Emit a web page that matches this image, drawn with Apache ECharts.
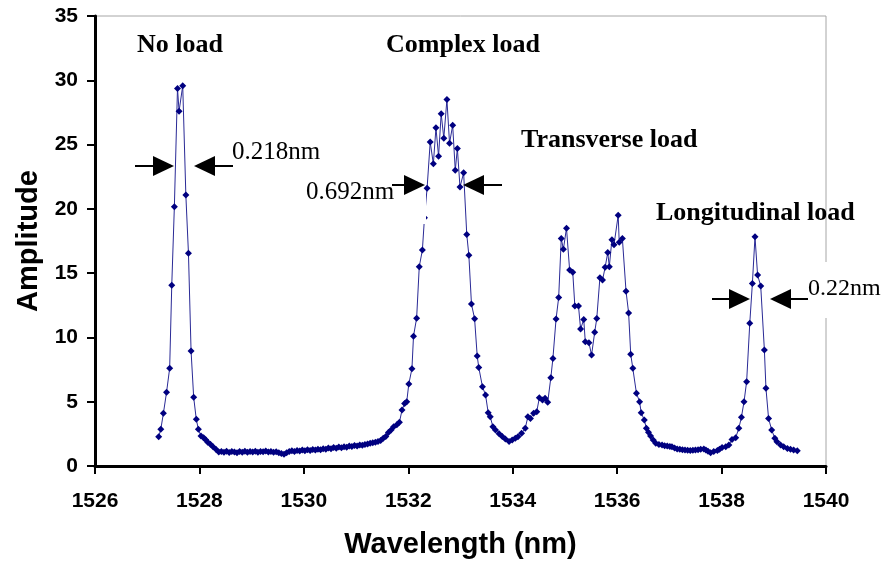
<!DOCTYPE html>
<html>
<head>
<meta charset="utf-8">
<script src="https://cdn.jsdelivr.net/npm/echarts@6/dist/echarts.min.js"></script>
<style>html,body{margin:0;padding:0;background:#fff}#c{width:884px;height:561px}</style>
</head>
<body>
<div id="c"></div>
<script>
// Wavelength (nm) of each sample
const wavelength = [
1527.22,1527.26,1527.31,1527.37,1527.43,1527.47,1527.52,1527.58,1527.61,1527.68,
1527.74,1527.79,1527.84,1527.89,1527.94,1527.98,1528.03,1528.08,1528.12,1528.16,
1528.21,1528.26,1528.32,1528.37,1528.42,1528.47,1528.52,1528.57,1528.62,1528.67,
1528.72,1528.77,1528.82,1528.87,1528.92,1528.97,1529.02,1529.07,1529.12,1529.17,
1529.22,1529.27,1529.32,1529.37,1529.42,1529.47,1529.52,1529.57,1529.62,1529.67,
1529.72,1529.77,1529.82,1529.87,1529.92,1529.97,1530.02,1530.07,1530.12,1530.17,
1530.22,1530.27,1530.32,1530.37,1530.42,1530.47,1530.52,1530.57,1530.62,1530.67,
1530.72,1530.77,1530.82,1530.87,1530.92,1530.97,1531.02,1531.07,1531.12,1531.17,
1531.22,1531.27,1531.32,1531.37,1531.42,1531.47,1531.52,1531.57,1531.62,1531.67,
1531.72,1531.78,1531.83,1531.88,1531.93,1531.97,1532.01,1532.07,1532.10,1532.16,
1532.21,1532.27,1532.31,1532.36,1532.42,1532.48,1532.53,1532.58,1532.63,1532.68,
1532.74,1532.79,1532.85,1532.90,1532.94,1532.99,1533.06,1533.12,1533.16,1533.21,
1533.27,1533.32,1533.35,1533.42,1533.48,1533.53,1533.57,1533.62,1533.67,1533.74,
1533.80,1533.86,1533.93,1533.99,1534.05,1534.10,1534.17,1534.24,1534.29,1534.34,
1534.40,1534.46,1534.51,1534.57,1534.62,1534.67,1534.73,1534.77,1534.83,1534.88,
1534.93,1534.97,1535.03,1535.09,1535.15,1535.19,1535.26,1535.30,1535.36,1535.39,
1535.46,1535.51,1535.57,1535.61,1535.67,1535.72,1535.77,1535.82,1535.85,1535.90,
1535.94,1536.02,1536.04,1536.10,1536.17,1536.22,1536.26,1536.30,1536.37,1536.43,
1536.46,1536.52,1536.56,1536.60,1536.64,1536.69,1536.74,1536.80,1536.86,1536.91,
1536.96,1537.01,1537.05,1537.10,1537.15,1537.20,1537.25,1537.30,1537.35,1537.40,
1537.45,1537.50,1537.55,1537.60,1537.66,1537.70,1537.74,1537.79,1537.85,1537.92,
1537.96,1538.01,1538.08,1538.14,1538.20,1538.27,1538.33,1538.38,1538.43,1538.48,
1538.54,1538.59,1538.64,1538.69,1538.75,1538.82,1538.85,1538.90,1538.96,1539.02,
1539.06,1539.13,1539.19,1539.26,1539.32,1539.38,1539.45
];
// Amplitude of each sample
const amplitude = [
2.28,2.85,4.10,5.73,7.60,14.05,20.17,29.37,27.60,29.57,
21.07,16.54,8.94,5.34,3.63,2.85,2.33,2.20,2.05,1.85,
1.70,1.50,1.28,1.08,1.12,1.06,1.14,1.05,1.12,1.09,
1.04,1.13,1.07,1.14,1.06,1.12,1.09,1.15,1.07,1.13,
1.10,1.16,1.08,1.12,1.06,1.10,1.04,0.98,0.92,1.04,
1.12,1.18,1.13,1.21,1.16,1.24,1.19,1.26,1.21,1.29,
1.24,1.31,1.27,1.35,1.31,1.40,1.35,1.43,1.38,1.47,
1.42,1.50,1.46,1.55,1.51,1.60,1.56,1.63,1.62,1.68,
1.72,1.76,1.80,1.85,1.90,1.98,2.15,2.30,2.60,2.80,
3.06,3.20,3.40,4.35,4.87,5.00,6.38,7.57,10.10,11.50,
15.50,16.80,19.30,21.60,25.20,23.50,26.30,24.10,27.40,25.50,
28.50,25.10,26.50,23.00,24.70,21.70,22.80,18.00,16.40,12.60,
11.45,8.55,7.67,6.17,5.52,4.15,3.83,3.06,2.80,2.50,
2.30,2.10,1.90,2.02,2.15,2.28,2.54,2.93,3.83,3.70,
4.10,4.22,5.30,5.13,5.26,4.95,6.87,8.37,11.43,13.10,
17.70,16.85,18.50,15.24,15.06,12.44,12.44,10.65,11.40,9.67,
9.59,8.63,10.40,11.48,14.65,14.46,15.45,16.60,15.50,17.60,
17.20,19.50,17.40,17.70,13.60,11.90,8.70,7.60,5.65,5.00,
4.15,3.58,2.93,2.62,2.33,2.02,1.76,1.68,1.63,1.58,
1.55,1.52,1.50,1.40,1.32,1.30,1.26,1.24,1.22,1.20,
1.22,1.24,1.27,1.30,1.33,1.25,1.15,1.04,1.12,1.20,
1.30,1.43,1.50,1.63,2.07,2.20,2.93,3.79,5.00,6.56,
11.10,14.20,17.83,14.85,14.00,9.02,6.04,3.70,2.80,2.15,
1.89,1.63,1.50,1.37,1.30,1.24,1.19
];
const xTicks = [1526, 1528, 1530, 1532, 1534, 1536, 1538, 1540];
const yTicks = [0, 5, 10, 15, 20, 25, 30, 35];
const peakLabels = ['No load', 'Complex load', 'Transverse load', 'Longitudinal load'];
const widthLabels = ['0.218nm', '0.692nm', '0.22nm'];

const chart = echarts.init(document.getElementById('c'), null, {renderer: 'canvas'});
const sans = "'Liberation Sans', Arial, sans-serif";
const serif = "'Liberation Serif', 'Times New Roman', serif";

function arrow(tail, tip, y) {
  const dir = tip > tail ? 1 : -1;
  const base = tip - dir * 21;
  return [
    {type: 'line', shape: {x1: tail, y1: y, x2: base, y2: y}, style: {stroke: '#000', lineWidth: 2}, z: 120},
    {type: 'polygon', shape: {points: [[tip, y], [base, y - 10], [base, y + 10]]}, style: {fill: '#000'}, z: 120}
  ];
}
function label(text, x, y, size, bold) {
  return {type: 'text', z: 121, style: {text: text, x: x, y: y, fill: '#000',
    font: (bold ? 'bold ' : '') + size + 'px ' + serif, align: 'left', verticalAlign: 'middle'}};
}

const option = {
  animation: false,
  backgroundColor: '#fff',
  grid: {left: 95, right: 58, top: 16, bottom: 95, containLabel: false, outerBoundsMode: 'none',
    show: true, borderColor: '#a6a6a6', borderWidth: 1, backgroundColor: 'transparent'},
  xAxis: {
    type: 'value', min: xTicks[0], max: xTicks[xTicks.length - 1], interval: 2,
    name: 'Wavelength (nm)', nameLocation: 'middle', nameGap: 64,
    nameTextStyle: {fontFamily: sans, fontWeight: 'bold', fontSize: 29, color: '#000'},
    axisLine: {lineStyle: {color: '#000', width: 3}, onZero: false},
    axisTick: {inside: false, length: 8, lineStyle: {color: '#000', width: 2}},
    axisLabel: {fontFamily: sans, fontWeight: 'bold', fontSize: 21, color: '#000', margin: 25,
      formatter: v => String(v)},
    splitLine: {show: false}
  },
  yAxis: {
    type: 'value', min: yTicks[0], max: yTicks[yTicks.length - 1], interval: 5,
    name: 'Amplitude', nameLocation: 'middle', nameGap: 50,
    nameTextStyle: {fontFamily: sans, fontWeight: 'bold', fontSize: 29, color: '#000'},
    axisLine: {show: true, lineStyle: {color: '#000', width: 3}, onZero: false},
    axisTick: {show: true, inside: false, length: 8, lineStyle: {color: '#000', width: 2}},
    axisLabel: {fontFamily: sans, fontWeight: 'bold', fontSize: 21, color: '#000', margin: 17,
      formatter: v => String(v)},
    splitLine: {show: false}
  },
  series: [{
    type: 'line',
    data: wavelength.map((w, i) => [w, amplitude[i]]),
    symbol: 'diamond', symbolSize: 7, showSymbol: true,
    itemStyle: {color: '#000080'},
    lineStyle: {color: '#2a2a96', width: 1},
    z: 5
  }],
  graphic: [
    {type: 'rect', shape: {x: 410, y: 191, width: 16, height: 33}, style: {fill: '#fff'}, z: 110},
    {type: 'rect', shape: {x: 802, y: 262, width: 60, height: 56}, style: {fill: '#fff'}, z: 110},
    label(peakLabels[0], 137, 45, 26, true),
    label(peakLabels[1], 386, 45, 26, true),
    label(peakLabels[2], 521, 140, 26, true),
    label(peakLabels[3], 656, 213, 26, true),
    label(widthLabels[0], 232, 152, 25, false),
    label(widthLabels[1], 306, 192, 25, false),
    label(widthLabels[2], 808, 289, 24, false),
    ...arrow(135, 174, 166), ...arrow(233, 194, 166),
    ...arrow(392, 425, 185), ...arrow(502, 463, 185),
    ...arrow(712, 750, 299), ...arrow(808, 770, 299)
  ]
};
chart.setOption(option);
</script>
</body>
</html>
